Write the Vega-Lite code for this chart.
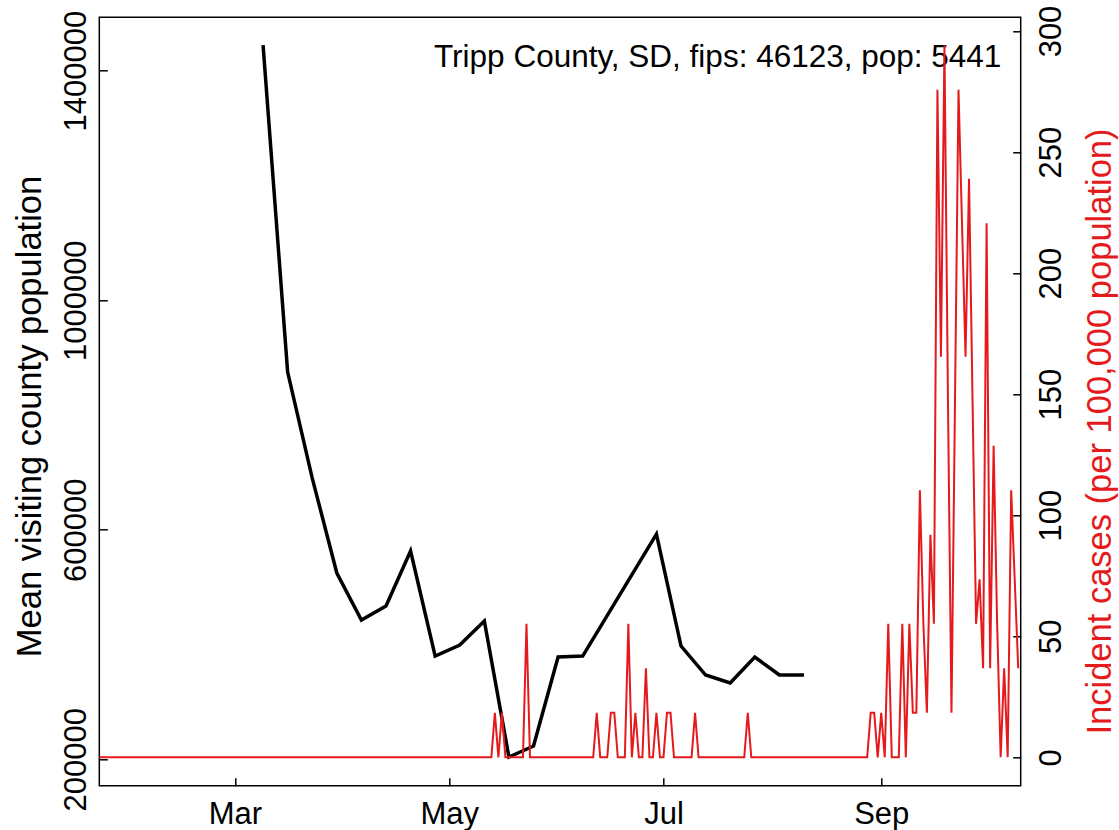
{
  "$schema": "https://vega.github.io/schema/vega-lite/v6.json",
  "width": 921.4,
  "height": 768.4,
  "autosize": {"type": "none"},
  "padding": {"left": 99.3, "top": 17.3, "right": 98.3, "bottom": 44.3},
  "background": "white",
  "config": {
    "view": {"stroke": "black", "strokeWidth": 1.5},
    "font": "Liberation Sans",
    "axis": {
      "labelFont": "Liberation Sans", "titleFont": "Liberation Sans",
      "labelColor": "black", "titleColor": "black", "tickColor": "black",
      "tickWidth": 1.5, "domain": false, "grid": false,
      "labelFontSize": 31, "titleFontSize": 34.5, "titleFontWeight": "normal",
      "tickSize": -8, "labelFlush": false, "labelOverlap": false
    }
  },
  "datasets": {
    "mobility": [
      {"date": "2020-03-09", "visitors": 1444453},
      {"date": "2020-03-16", "visitors": 874754},
      {"date": "2020-03-23", "visitors": 690081},
      {"date": "2020-03-30", "visitors": 524572},
      {"date": "2020-04-06", "visitors": 442688},
      {"date": "2020-04-13", "visitors": 467079},
      {"date": "2020-04-20", "visitors": 562900},
      {"date": "2020-04-27", "visitors": 379969},
      {"date": "2020-05-04", "visitors": 399133},
      {"date": "2020-05-11", "visitors": 440946},
      {"date": "2020-05-18", "visitors": 204007},
      {"date": "2020-05-25", "visitors": 223171},
      {"date": "2020-06-01", "visitors": 378227},
      {"date": "2020-06-08", "visitors": 379969},
      {"date": "2020-06-29", "visitors": 592518},
      {"date": "2020-07-06", "visitors": 397391},
      {"date": "2020-07-13", "visitors": 346867},
      {"date": "2020-07-20", "visitors": 332930},
      {"date": "2020-07-27", "visitors": 378227},
      {"date": "2020-08-03", "visitors": 346867},
      {"date": "2020-08-10", "visitors": 346867}
    ],
    "cases": [
      {"date":"2020-01-22","incid":0},{"date":"2020-01-23","incid":0},{"date":"2020-01-24","incid":0},{"date":"2020-01-25","incid":0},{"date":"2020-01-26","incid":0},{"date":"2020-01-27","incid":0},{"date":"2020-01-28","incid":0},{"date":"2020-01-29","incid":0},{"date":"2020-01-30","incid":0},{"date":"2020-01-31","incid":0},
      {"date":"2020-02-01","incid":0},{"date":"2020-02-02","incid":0},{"date":"2020-02-03","incid":0},{"date":"2020-02-04","incid":0},{"date":"2020-02-05","incid":0},{"date":"2020-02-06","incid":0},{"date":"2020-02-07","incid":0},{"date":"2020-02-08","incid":0},{"date":"2020-02-09","incid":0},{"date":"2020-02-10","incid":0},{"date":"2020-02-11","incid":0},{"date":"2020-02-12","incid":0},{"date":"2020-02-13","incid":0},{"date":"2020-02-14","incid":0},{"date":"2020-02-15","incid":0},{"date":"2020-02-16","incid":0},{"date":"2020-02-17","incid":0},{"date":"2020-02-18","incid":0},{"date":"2020-02-19","incid":0},{"date":"2020-02-20","incid":0},{"date":"2020-02-21","incid":0},{"date":"2020-02-22","incid":0},{"date":"2020-02-23","incid":0},{"date":"2020-02-24","incid":0},{"date":"2020-02-25","incid":0},{"date":"2020-02-26","incid":0},{"date":"2020-02-27","incid":0},{"date":"2020-02-28","incid":0},{"date":"2020-02-29","incid":0},
      {"date":"2020-03-01","incid":0},{"date":"2020-03-02","incid":0},{"date":"2020-03-03","incid":0},{"date":"2020-03-04","incid":0},{"date":"2020-03-05","incid":0},{"date":"2020-03-06","incid":0},{"date":"2020-03-07","incid":0},{"date":"2020-03-08","incid":0},{"date":"2020-03-09","incid":0},{"date":"2020-03-10","incid":0},{"date":"2020-03-11","incid":0},{"date":"2020-03-12","incid":0},{"date":"2020-03-13","incid":0},{"date":"2020-03-14","incid":0},{"date":"2020-03-15","incid":0},{"date":"2020-03-16","incid":0},{"date":"2020-03-17","incid":0},{"date":"2020-03-18","incid":0},{"date":"2020-03-19","incid":0},{"date":"2020-03-20","incid":0},{"date":"2020-03-21","incid":0},{"date":"2020-03-22","incid":0},{"date":"2020-03-23","incid":0},{"date":"2020-03-24","incid":0},{"date":"2020-03-25","incid":0},{"date":"2020-03-26","incid":0},{"date":"2020-03-27","incid":0},{"date":"2020-03-28","incid":0},{"date":"2020-03-29","incid":0},{"date":"2020-03-30","incid":0},{"date":"2020-03-31","incid":0},
      {"date":"2020-04-01","incid":0},{"date":"2020-04-02","incid":0},{"date":"2020-04-03","incid":0},{"date":"2020-04-04","incid":0},{"date":"2020-04-05","incid":0},{"date":"2020-04-06","incid":0},{"date":"2020-04-07","incid":0},{"date":"2020-04-08","incid":0},{"date":"2020-04-09","incid":0},{"date":"2020-04-10","incid":0},{"date":"2020-04-11","incid":0},{"date":"2020-04-12","incid":0},{"date":"2020-04-13","incid":0},{"date":"2020-04-14","incid":0},{"date":"2020-04-15","incid":0},{"date":"2020-04-16","incid":0},{"date":"2020-04-17","incid":0},{"date":"2020-04-18","incid":0},{"date":"2020-04-19","incid":0},{"date":"2020-04-20","incid":0},{"date":"2020-04-21","incid":0},{"date":"2020-04-22","incid":0},{"date":"2020-04-23","incid":0},{"date":"2020-04-24","incid":0},{"date":"2020-04-25","incid":0},{"date":"2020-04-26","incid":0},{"date":"2020-04-27","incid":0},{"date":"2020-04-28","incid":0},{"date":"2020-04-29","incid":0},{"date":"2020-04-30","incid":0},
      {"date":"2020-05-01","incid":0},{"date":"2020-05-02","incid":0},{"date":"2020-05-03","incid":0},{"date":"2020-05-04","incid":0},{"date":"2020-05-05","incid":0},{"date":"2020-05-06","incid":0},{"date":"2020-05-07","incid":0},{"date":"2020-05-08","incid":0},{"date":"2020-05-09","incid":0},{"date":"2020-05-10","incid":0},{"date":"2020-05-11","incid":0},{"date":"2020-05-12","incid":0},{"date":"2020-05-13","incid":0},{"date":"2020-05-14","incid":18.38},{"date":"2020-05-15","incid":0},{"date":"2020-05-16","incid":18.38},{"date":"2020-05-17","incid":0},{"date":"2020-05-18","incid":0},{"date":"2020-05-19","incid":0},{"date":"2020-05-20","incid":0},{"date":"2020-05-21","incid":0},{"date":"2020-05-22","incid":0},{"date":"2020-05-23","incid":55.14},{"date":"2020-05-24","incid":0},{"date":"2020-05-25","incid":0},{"date":"2020-05-26","incid":0},{"date":"2020-05-27","incid":0},{"date":"2020-05-28","incid":0},{"date":"2020-05-29","incid":0},{"date":"2020-05-30","incid":0},{"date":"2020-05-31","incid":0},
      {"date":"2020-06-01","incid":0},{"date":"2020-06-02","incid":0},{"date":"2020-06-03","incid":0},{"date":"2020-06-04","incid":0},{"date":"2020-06-05","incid":0},{"date":"2020-06-06","incid":0},{"date":"2020-06-07","incid":0},{"date":"2020-06-08","incid":0},{"date":"2020-06-09","incid":0},{"date":"2020-06-10","incid":0},{"date":"2020-06-11","incid":0},{"date":"2020-06-12","incid":18.38},{"date":"2020-06-13","incid":0},{"date":"2020-06-14","incid":0},{"date":"2020-06-15","incid":0},{"date":"2020-06-16","incid":18.38},{"date":"2020-06-17","incid":18.38},{"date":"2020-06-18","incid":0},{"date":"2020-06-19","incid":0},{"date":"2020-06-20","incid":0},{"date":"2020-06-21","incid":55.14},{"date":"2020-06-22","incid":0},{"date":"2020-06-23","incid":18.38},{"date":"2020-06-24","incid":0},{"date":"2020-06-25","incid":0},{"date":"2020-06-26","incid":36.76},{"date":"2020-06-27","incid":0},{"date":"2020-06-28","incid":0},{"date":"2020-06-29","incid":18.38},{"date":"2020-06-30","incid":0},
      {"date":"2020-07-01","incid":0},{"date":"2020-07-02","incid":18.38},{"date":"2020-07-03","incid":18.38},{"date":"2020-07-04","incid":0},{"date":"2020-07-05","incid":0},{"date":"2020-07-06","incid":0},{"date":"2020-07-07","incid":0},{"date":"2020-07-08","incid":0},{"date":"2020-07-09","incid":0},{"date":"2020-07-10","incid":18.38},{"date":"2020-07-11","incid":0},{"date":"2020-07-12","incid":0},{"date":"2020-07-13","incid":0},{"date":"2020-07-14","incid":0},{"date":"2020-07-15","incid":0},{"date":"2020-07-16","incid":0},{"date":"2020-07-17","incid":0},{"date":"2020-07-18","incid":0},{"date":"2020-07-19","incid":0},{"date":"2020-07-20","incid":0},{"date":"2020-07-21","incid":0},{"date":"2020-07-22","incid":0},{"date":"2020-07-23","incid":0},{"date":"2020-07-24","incid":0},{"date":"2020-07-25","incid":18.38},{"date":"2020-07-26","incid":0},{"date":"2020-07-27","incid":0},{"date":"2020-07-28","incid":0},{"date":"2020-07-29","incid":0},{"date":"2020-07-30","incid":0},{"date":"2020-07-31","incid":0},
      {"date":"2020-08-01","incid":0},{"date":"2020-08-02","incid":0},{"date":"2020-08-03","incid":0},{"date":"2020-08-04","incid":0},{"date":"2020-08-05","incid":0},{"date":"2020-08-06","incid":0},{"date":"2020-08-07","incid":0},{"date":"2020-08-08","incid":0},{"date":"2020-08-09","incid":0},{"date":"2020-08-10","incid":0},{"date":"2020-08-11","incid":0},{"date":"2020-08-12","incid":0},{"date":"2020-08-13","incid":0},{"date":"2020-08-14","incid":0},{"date":"2020-08-15","incid":0},{"date":"2020-08-16","incid":0},{"date":"2020-08-17","incid":0},{"date":"2020-08-18","incid":0},{"date":"2020-08-19","incid":0},{"date":"2020-08-20","incid":0},{"date":"2020-08-21","incid":0},{"date":"2020-08-22","incid":0},{"date":"2020-08-23","incid":0},{"date":"2020-08-24","incid":0},{"date":"2020-08-25","incid":0},{"date":"2020-08-26","incid":0},{"date":"2020-08-27","incid":0},{"date":"2020-08-28","incid":0},{"date":"2020-08-29","incid":18.38},{"date":"2020-08-30","incid":18.38},{"date":"2020-08-31","incid":0},
      {"date":"2020-09-01","incid":18.38},{"date":"2020-09-02","incid":0},{"date":"2020-09-03","incid":55.14},{"date":"2020-09-04","incid":0},{"date":"2020-09-05","incid":0},{"date":"2020-09-06","incid":0},{"date":"2020-09-07","incid":55.14},{"date":"2020-09-08","incid":0},{"date":"2020-09-09","incid":55.14},{"date":"2020-09-10","incid":18.38},{"date":"2020-09-11","incid":18.38},{"date":"2020-09-12","incid":110.27},{"date":"2020-09-13","incid":55.14},{"date":"2020-09-14","incid":18.38},{"date":"2020-09-15","incid":91.89},{"date":"2020-09-16","incid":55.14},{"date":"2020-09-17","incid":275.68},{"date":"2020-09-18","incid":165.41},{"date":"2020-09-19","incid":294.06},{"date":"2020-09-20","incid":147.03},{"date":"2020-09-21","incid":18.38},{"date":"2020-09-22","incid":147.03},{"date":"2020-09-23","incid":275.68},{"date":"2020-09-24","incid":220.55},{"date":"2020-09-25","incid":165.41},{"date":"2020-09-26","incid":238.93},{"date":"2020-09-27","incid":147.03},{"date":"2020-09-28","incid":55.14},{"date":"2020-09-29","incid":73.52},{"date":"2020-09-30","incid":36.76},
      {"date":"2020-10-01","incid":220.55},{"date":"2020-10-02","incid":36.76},{"date":"2020-10-03","incid":128.65},{"date":"2020-10-04","incid":55.14},{"date":"2020-10-05","incid":0},{"date":"2020-10-06","incid":36.76},{"date":"2020-10-07","incid":0},{"date":"2020-10-08","incid":110.27},{"date":"2020-10-09","incid":73.52},{"date":"2020-10-10","incid":36.76}
    ]
  },
  "layer": [
    {
      "layer": [
        {
          "data": {"name": "mobility"},
          "mark": {"type": "line", "color": "black", "strokeWidth": 3.5, "strokeJoin": "miter", "clip": true},
          "encoding": {
            "x": {
              "field": "date", "type": "temporal",
              "scale": {"type": "utc", "domain": [{"year": 2020, "month": 1, "date": 22, "hours": 9, "utc": true}, {"year": 2020, "month": 10, "date": 10, "hours": 17, "utc": true}]},
              "axis": {
                "values": [{"year": 2020, "month": 3, "date": 1, "utc": true}, {"year": 2020, "month": 5, "date": 1, "utc": true}, {"year": 2020, "month": 7, "date": 1, "utc": true}, {"year": 2020, "month": 9, "date": 1, "utc": true}],
                "labelExpr": "utcFormat(datum.value, '%b')",
                "labelAngle": 0, "labelAlign": "center", "labelBaseline": "alphabetic",
                "labelPadding": 45.3, "title": null
              }
            },
            "y": {
              "field": "visitors", "type": "quantitative",
              "scale": {"domain": [154007, 1493031], "nice": false, "zero": false},
              "axis": {
                "values": [200000, 600000, 1000000, 1400000], "format": "d",
                "labelAngle": -90, "labelAlign": "center", "labelBaseline": "alphabetic",
                "labelPadding": 22.3,
                "title": "Mean visiting county population",
                "titleAngle": -90, "titleAlign": "center", "titleBaseline": "alphabetic",
                "titleX": -58.5, "titleY": 398.7
              }
            }
          }
        },
        {
          "data": {"values": [{"label": "Tripp County, SD, fips: 46123, pop: 5441"}]},
          "mark": {"type": "text", "align": "right", "baseline": "alphabetic", "fontSize": 31.5, "font": "Liberation Sans", "color": "black"},
          "encoding": {
            "text": {"field": "label"},
            "x": {"datum": {"year": 2020, "month": 10, "date": 5, "hours": 5, "utc": true}, "type": "temporal",
                  "scale": {"type": "utc", "domain": [{"year": 2020, "month": 1, "date": 22, "hours": 9, "utc": true}, {"year": 2020, "month": 10, "date": 10, "hours": 17, "utc": true}]}},
            "y": {"datum": 1406000, "type": "quantitative",
                  "scale": {"domain": [154007, 1493031], "nice": false, "zero": false}}
          }
        }
      ]
    },
    {
      "data": {"name": "cases"},
      "mark": {"type": "line", "color": "#E41A1C", "strokeWidth": 2, "clip": true},
      "encoding": {
        "x": {"field": "date", "type": "temporal",
              "scale": {"type": "utc", "domain": [{"year": 2020, "month": 1, "date": 22, "hours": 9, "utc": true}, {"year": 2020, "month": 10, "date": 10, "hours": 17, "utc": true}]}},
        "y": {
          "field": "incid", "type": "quantitative",
          "scale": {"domain": [-11.73, 305.66], "nice": false, "zero": false},
          "axis": {
            "orient": "right",
            "values": [0, 50, 100, 150, 200, 250, 300],
            "labelAngle": -90, "labelAlign": "center", "labelBaseline": "alphabetic",
            "labelPadding": 47.3,
            "title": "Incident cases (per 100,000 population)",
            "titleColor": "#E41A1C",
            "titleAngle": -90, "titleAlign": "center", "titleBaseline": "alphabetic",
            "titleX": 89.3, "titleY": 413.7
          }
        }
      }
    }
  ],
  "resolve": {"scale": {"y": "independent"}}
}
